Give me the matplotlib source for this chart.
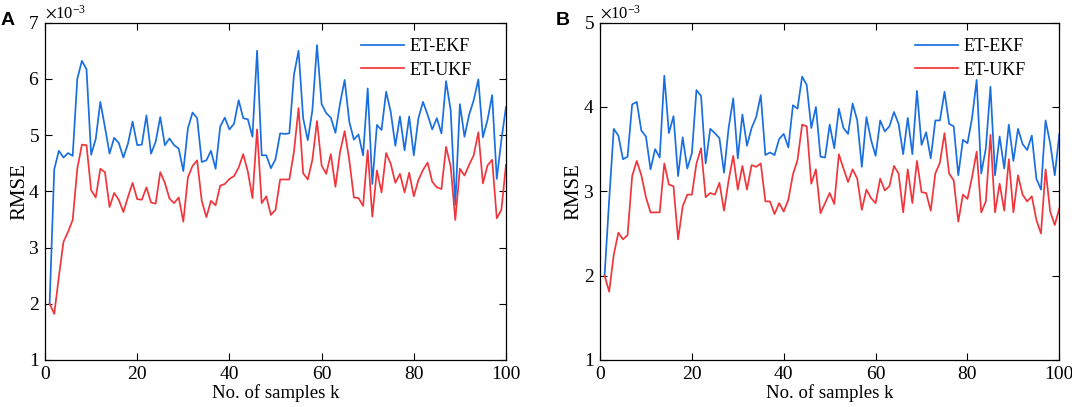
import matplotlib
matplotlib.use('Agg')
import matplotlib.pyplot as plt
import numpy as np
from matplotlib.ticker import ScalarFormatter

# 字体配置（Times 风格）
plt.rcParams['font.family'] = ['Liberation Serif', 'DejaVu Serif']
plt.rcParams['mathtext.fontset'] = 'stix'
plt.rcParams['axes.unicode_minus'] = False

# 样本序号
samples = np.arange(1, 101)

# 图 A 数据（单位 ×10^-3）
ekf_a = [2.00, 4.39, 4.72, 4.60, 4.68, 4.63, 6.00, 6.32, 6.17, 4.65,
         4.93, 5.59, 5.14, 4.67, 4.95, 4.86, 4.60, 4.85, 5.24, 4.82,
         4.83, 5.35, 4.67, 4.88, 5.32, 4.82, 4.94, 4.82, 4.76, 4.36,
         5.12, 5.40, 5.30, 4.52, 4.55, 4.72, 4.40, 5.15, 5.31, 5.10,
         5.20, 5.62, 5.30, 5.28, 4.97, 6.50, 4.64, 4.64, 4.41, 4.57,
         5.03, 5.02, 5.03, 6.07, 6.50, 5.30, 4.91, 5.44, 6.60, 5.55,
         5.39, 5.31, 5.04, 5.56, 5.98, 5.24, 4.92, 5.01, 4.64, 5.83,
         4.13, 5.18, 5.09, 5.77, 5.41, 4.81, 5.33, 4.73, 5.33, 4.64,
         5.30, 5.59, 5.36, 5.10, 5.30, 5.03, 5.96, 5.44, 3.76, 5.55,
         4.97, 5.36, 5.62, 5.99, 4.96, 5.27, 5.71, 4.22, 4.91, 5.50]
ukf_a = [2.00, 1.82, 2.48, 3.10, 3.28, 3.49, 4.40, 4.83, 4.82, 4.02,
         3.89, 4.40, 4.34, 3.72, 3.97, 3.85, 3.63, 3.90, 4.15, 3.86,
         3.85, 4.07, 3.80, 3.78, 4.34, 4.15, 3.87, 3.79, 3.89, 3.46,
         4.25, 4.45, 4.55, 3.83, 3.54, 3.83, 3.75, 4.10, 4.13, 4.22,
         4.27, 4.42, 4.66, 4.35, 3.88, 5.10, 3.79, 3.91, 3.58, 3.67,
         4.21, 4.21, 4.21, 4.70, 5.48, 4.32, 4.21, 4.56, 5.25, 4.46,
         4.31, 4.66, 4.08, 4.70, 5.07, 4.56, 3.89, 3.88, 3.74, 4.73,
         3.55, 4.37, 3.98, 4.68, 4.49, 4.15, 4.31, 3.98, 4.33, 3.91,
         4.20, 4.38, 4.51, 4.17, 4.07, 4.04, 4.79, 4.44, 3.49, 4.40,
         4.28, 4.47, 4.64, 5.05, 4.14, 4.46, 4.56, 3.52, 3.67, 4.47]

# 图 B 数据（单位 ×10^-3）
ekf_b = [2.00, 2.90, 3.74, 3.66, 3.38, 3.41, 4.03, 4.06, 3.72, 3.65,
         3.26, 3.50, 3.40, 4.37, 3.69, 3.89, 3.18, 3.64, 3.27, 3.45,
         4.20, 4.13, 3.33, 3.74, 3.69, 3.63, 3.22, 3.75, 4.10, 3.39,
         3.91, 3.54, 3.75, 3.88, 4.14, 3.43, 3.46, 3.43, 3.62, 3.68,
         3.52, 4.02, 3.98, 4.36, 4.26, 3.75, 4.00, 3.41, 3.40, 3.79,
         3.51, 3.98, 3.75, 3.68, 4.04, 3.84, 3.29, 3.88, 3.61, 3.42,
         3.84, 3.71, 3.77, 3.94, 3.80, 3.44, 3.87, 3.44, 4.19, 3.55,
         3.70, 3.39, 3.84, 3.84, 4.18, 3.80, 3.77, 3.19, 3.61, 3.57,
         3.87, 4.32, 3.21, 3.51, 4.24, 3.19, 3.65, 3.27, 3.79, 3.36,
         3.74, 3.56, 3.49, 3.66, 3.15, 3.02, 3.84, 3.57, 3.19, 3.68]
ukf_b = [2.00, 1.81, 2.25, 2.51, 2.43, 2.48, 3.18, 3.36, 3.19, 2.93,
         2.75, 2.75, 2.75, 3.33, 3.08, 3.06, 2.43, 2.82, 2.96, 2.96,
         3.33, 3.51, 2.93, 2.98, 2.96, 3.10, 2.77, 3.13, 3.42, 3.02,
         3.30, 3.02, 3.31, 3.29, 3.33, 2.88, 2.88, 2.73, 2.86, 2.76,
         2.90, 3.20, 3.37, 3.79, 3.77, 3.09, 3.26, 2.74, 2.86, 2.98,
         2.85, 3.44, 3.27, 3.11, 3.26, 3.15, 2.78, 3.02, 2.92, 2.86,
         3.15, 3.01, 3.06, 3.30, 3.21, 2.75, 3.26, 2.86, 3.36, 2.99,
         2.98, 2.77, 3.21, 3.34, 3.69, 3.21, 3.13, 2.64, 2.96, 2.91,
         3.17, 3.47, 2.75, 2.88, 3.67, 2.75, 3.09, 2.77, 3.38, 2.75,
         3.19, 2.96, 2.88, 2.94, 2.66, 2.50, 3.26, 2.76, 2.60, 2.80]

# 面板：名称、数据、y 范围、位置、y 标签偏移
panels = [
    ('A', ekf_a, ukf_a, (1, 7), [0.042, 0.1155, 0.430, 0.829], -0.034),
    ('B', ekf_b, ukf_b, (1, 5), [0.5597, 0.1155, 0.4285, 0.829], -0.037),
]

blue = '#1a6fe0'
red = '#f0363c'

fig = plt.figure(figsize=(10.72, 4.07), dpi=100)

for name, ekf, ukf, ylim, rect, ylab_x in panels:
    ax = fig.add_axes(rect)
    ax.plot(samples, np.array(ekf) * 1e-3, color=blue, linewidth=1.25, label='ET-EKF')
    ax.plot(samples, np.array(ukf) * 1e-3, color=red, linewidth=1.25, label='ET-UKF')

    ax.set_xlim(0, 100)
    ax.set_ylim(ylim[0] * 1e-3, ylim[1] * 1e-3)
    ax.set_xticks(np.arange(0, 101, 20))
    ax.set_yticks(np.arange(ylim[0], ylim[1] + 1) * 1e-3)

    fmt = ScalarFormatter(useMathText=True)
    fmt.set_powerlimits((-2, 2))
    ax.yaxis.set_major_formatter(fmt)
    ax.yaxis.get_offset_text().set_fontsize(12)

    ax.tick_params(direction='in', top=True, right=True, length=5,
                   width=0.8, labelsize=14, pad=4)
    for sp in ax.spines.values():
        sp.set_linewidth(0.9)

    ax.set_xlabel('No. of samples k', fontsize=13.5, labelpad=1)
    ax.set_ylabel('RMSE', fontsize=15)
    ax.yaxis.set_label_coords(ylab_x, 0.5)

    ax.legend(loc='upper left', bbox_to_anchor=(0.669, 0.975), frameon=False,
              fontsize=13, handlelength=2.4, handletextpad=0.3,
              labelspacing=0.36, borderaxespad=0)

    # 面板标签
    fig.text(rect[0] - 0.035, 0.95, name, fontsize=14, fontweight='bold',
             family=['Liberation Sans', 'DejaVu Sans'], va='center', ha='center')

plt.savefig('out.png', dpi=100)
